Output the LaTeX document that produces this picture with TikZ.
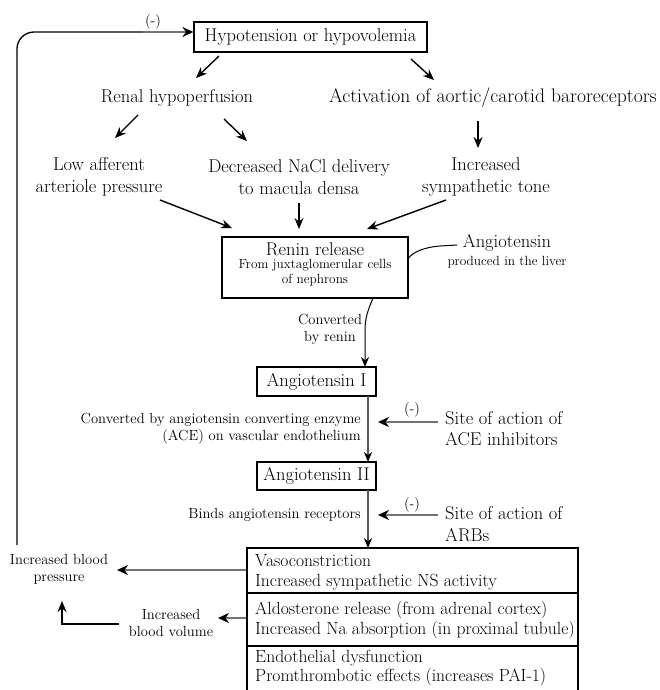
\documentclass[tikz,border=0pt]{standalone}
\usetikzlibrary{arrows.meta}
\begin{document}
\begin{tikzpicture}[x=1pt,y=-1pt,
  big/.style={font=\fontsize{18.5}{21.5}\selectfont},
  bot/.style={font=\fontsize{17.6}{19.5}\selectfont},
  small/.style={font=\fontsize{14.6}{17}\selectfont},
  smaller/.style={font=\fontsize{13.3}{15}\selectfont},
  txt/.style={inner sep=0pt,align=center},
  box/.style={draw,line width=1.2pt,inner sep=0pt,align=center},
  arr/.style={line width=1.4pt,-{Stealth[length=11pt,width=9pt]}},
  garr/.style={draw=black!55,line width=2.8pt,-{Stealth[length=11pt,width=10pt,color=black]}},
]
\useasboundingbox (0,0) rectangle (660,690);
\clip (0,0) rectangle (660,690);
\fill[white] (0,0) rectangle (660,690);

% top box
\node[box,big,minimum width=233pt,minimum height=30pt] (top) at (310.5,37) {Hypotension or hypovolemia};
\node[txt,small] (m0) at (153,22) {(-)};

\node[txt,big] (renal) at (177,98) {Renal hypoperfusion};
\node[txt,font=\fontsize{19.6}{22}\selectfont] (baro) at (493,98) {Activation of aortic/carotid baroreceptors};

\node[txt,big] (low) at (99,177) {Low afferent\\arteriole pressure};
\node[txt,big] (nacl) at (299,177) {Decreased NaCl delivery\\to macula densa};
\node[txt,big] (symp) at (486,177) {Increased\\sympathetic tone};

% renin box
\node[box,minimum width=186pt,minimum height=61pt] (renin) at (315,267.5) {};
\node[txt,big] (reninT) at (315,249) {Renin release};
\node[txt,smaller] (reninS) at (315,272.5) {From juxtaglomerular cells\\of nephrons};

\node[txt,big] (liver) at (507,243) {Angiotensin};
\node[txt,smaller] (liverS) at (507,262) {produced in the liver};

\node[txt,small] (convR) at (330,329.5) {Converted\\by renin};

% angiotensin I
\node[box,big,minimum width=119pt,minimum height=29pt] (ang1) at (316.5,381.5) {Angiotensin I};
\node[txt,small,anchor=east,align=right] (ace) at (361,428.5) {Converted by angiotensin converting enzyme\\(ACE) on vascular endothelium};
\node[txt,small] (m1) at (412,410) {(-)};
\node[txt,big,anchor=west,align=left] (site1) at (445,428.5) {Site of action of\\ACE inhibitors};

% angiotensin II
\node[box,big,minimum width=119pt,minimum height=28pt] (ang2) at (316.5,476) {Angiotensin II};
\node[txt,small,anchor=east] (binds) at (361,515) {Binds angiotensin receptors};
\node[txt,small] (m2) at (412,505) {(-)};
\node[txt,big,anchor=west,align=left] (site2) at (445,524) {Site of action of\\ARBs};

% bottom boxes
\node[draw,line width=1.2pt,minimum width=331pt,minimum height=45pt,inner sep=0pt] (r1) at (412.5,570.5) {};
\node[draw,line width=1.2pt,minimum width=331pt,minimum height=53pt,inner sep=0pt] (r2) at (412.5,619.5) {};
\node[draw,line width=1.2pt,minimum width=331pt,minimum height=60pt,inner sep=0pt] (r3) at (412.5,676) {};
\node[txt,bot,anchor=west,align=left] (r1t) at (255,572.5) {Vasoconstriction\\Increased sympathetic NS activity};
\node[txt,bot,anchor=west,align=left] (r2t) at (255,620) {Aldosterone release (from adrenal cortex)\\Increased Na absorption (in proximal tubule)};
\node[txt,bot,anchor=west,align=left] (r3t) at (255,668) {Endothelial dysfunction\\Promthrombotic effects (increases PAI-1)};

\node[txt,small] (ibp) at (59,569.5) {Increased blood\\pressure};
\node[txt,small] (ibv) at (171,623) {Increased\\blood volume};

% coordinates for free arrows
\coordinate (a1s) at (219,56); \coordinate (a1e) at (196,78);
\coordinate (a2s) at (411,59); \coordinate (a2e) at (434,80);
\coordinate (a3s) at (138,115); \coordinate (a3e) at (115,138);
\coordinate (a4s) at (224,119); \coordinate (a4e) at (247,141);
\coordinate (a5s) at (478,121); \coordinate (a5e) at (478,148);
\coordinate (a6s) at (160,200); \coordinate (a6e) at (232,228);
\coordinate (a7s) at (299,203); \coordinate (a7e) at (299,229);
\coordinate (a8s) at (446,200); \coordinate (a8e) at (367,229);

\draw[arr] (a1s) -- (a1e);
\draw[arr] (a2s) -- (a2e);
\draw[arr] (a3s) -- (a3e);
\draw[arr] (a4s) -- (a4e);
\draw[arr] (a5s) -- (a5e);
\draw[arr] (a6s) -- (a6e);
\draw[arr] (a7s) -- (a7e);
\draw[arr] (a8s) -- (a8e);

% liver curve
\coordinate (lv) at (457,245);
\draw[line width=1pt] (lv) -- (440,246) .. controls (425,247) and (413,252) .. (renin.east |- 0,258);

% renin -> ang I
\draw[line width=1pt,-{Stealth[length=10pt,width=8pt]}] (373,298) .. controls (368,310) and (365,318) .. (365,330) -- (365,367);

% main vertical
\draw[draw=black!65,line width=1.5pt,-{Stealth[length=10pt,width=8pt,color=black]}] (368,396) -- (368,462);
\draw[draw=black!65,line width=1.5pt,-{Stealth[length=10pt,width=8pt,color=black]}] (368,490) -- (368,548);

% inhibitor arrows
\coordinate (i1) at (438,422); \coordinate (i1e) at (378,422);
\coordinate (i2) at (438,515); \coordinate (i2e) at (378,515);
\draw[garr] (i1) -- (i1e);
\draw[garr] (i2) -- (i2e);

% outputs
\draw[garr] (r1.west |- 0,570) -- (117,570);
\draw[garr] (r2.west |- 0,618) -- (218,618);
\coordinate (lv1) at (119,624);
\draw[line width=1.4pt,-{Stealth[length=11pt,width=9pt]}] (lv1) -| (62,601);

% feedback
\coordinate (fb0) at (17,545);
\coordinate (fbg) at (143,32);
\draw[line width=1.3pt,rounded corners=17pt] (fb0) |- (fbg);
\draw[draw=black!55,line width=2.6pt,-{Stealth[length=11pt,width=10pt,color=black]}] (fbg) -- (top.west |- 0,32);
\end{tikzpicture}
\end{document}
